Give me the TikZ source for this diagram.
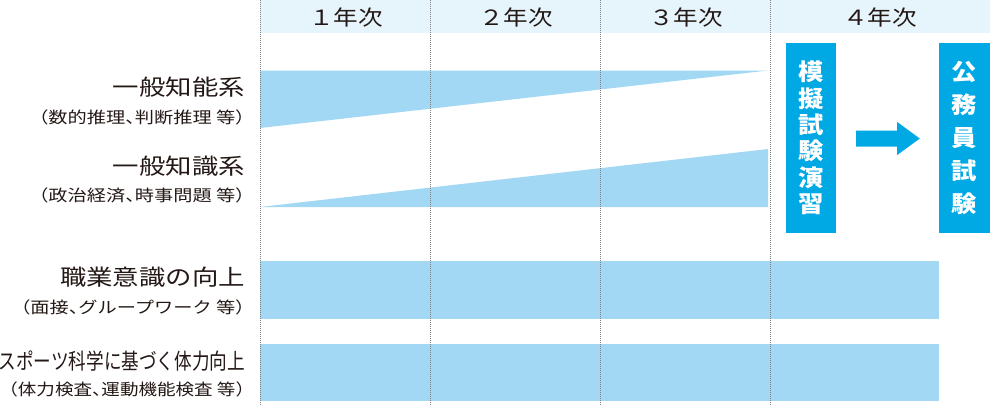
\documentclass[tikz,border=0pt]{standalone}
\usepackage{fontspec}
\usetikzlibrary{calc}
\newfontfamily\jpfont[FakeStretch=1.2]{Noto Sans CJK JP}
\newfontfamily\jpsubfont[FakeStretch=1.2,RawFeature=+halt]{Noto Sans CJK JP}
\newfontfamily\jpsubnarrowfont[FakeStretch=1.16,RawFeature=+halt]{Noto Sans CJK JP}
\newfontfamily\jpnarrowfont[FakeStretch=0.8]{Noto Sans CJK JP}
\newfontfamily\jpheadfont[FakeStretch=1.17]{Noto Sans CJK JP}
\newfontfamily\jpboldfont[FakeStretch=1.1]{Noto Sans CJK JP}
\definecolor{headbg}{HTML}{E6F4FC}
\definecolor{bandc}{HTML}{A2D8F4}
\definecolor{boxc}{HTML}{00A8E4}
\definecolor{txt}{HTML}{231815}
\definecolor{gridc}{HTML}{808080}
\tikzset{
  gridline/.style={gridc, line width=0.8pt, dash pattern=on 1pt off 1pt},
  headtext/.style={text=txt, inner sep=0pt, font=\jpheadfont\fontsize{21}{24}\selectfont},
  mainlabel/.style={anchor=east, text=txt, inner sep=0pt, font=\jpfont\fontsize{22}{26}\selectfont},
  narrowlabel/.style={anchor=east, text=txt, inner sep=0pt, font=\jpnarrowfont\fontsize{22}{26}\selectfont},
  sublabel/.style={anchor=east, text=txt, inner sep=0pt, font=\jpsubfont\fontsize{16}{19}\selectfont},
  subnarrow/.style={anchor=east, text=txt, inner sep=0pt, font=\jpsubnarrowfont\fontsize{16}{19}\selectfont},
  bluebox/.style={fill=boxc, text=white, inner sep=0pt, align=center, minimum height=190pt},
}
\begin{document}
\begin{tikzpicture}[x=1pt,y=-1pt]
\useasboundingbox (0,0) rectangle (990,405);
% header band
\fill[headbg] (260,0) rectangle (990,33);
% bands
\fill[bandc] (260,70.5) -- (768,70.5) -- (260,128) -- cycle;
\fill[bandc] (260,207) -- (768,149) -- (768,207) -- cycle;
\fill[bandc] (260,260.5) rectangle (939,318.5);
\fill[bandc] (260,343.5) rectangle (939,401);
% grid lines
\foreach \gx in {260,430,600,770} \draw[gridline] (\gx,0) -- (\gx,405);
% headers
\node[headtext] (y1) at (346,17.5) {１年次};
\node[headtext] (y2) at (516,17.5) {２年次};
\node[headtext] (y3) at (686,17.5) {３年次};
\node[headtext] (y4) at (880,17.5) {４年次};
% labels
\node[mainlabel] (l1) at (245,87) {一般知能系};
\node[sublabel] (s1) at (245,117) {（数的推理、判断推理 等）};
\node[mainlabel] (l2) at (245,166) {一般知識系};
\node[sublabel] (s2) at (245,195) {（政治経済、時事問題 等）};
\node[mainlabel] (l3) at (245,277) {職業意識の向上};
\node[sublabel] (s3) at (245,307) {（面接、グループワーク 等）};
\node[narrowlabel] (l4) at (245,361) {スポーツ科学に基づく体力向上};
\node[subnarrow] (s4) at (245,389) {（体力検査、運動機能検査 等）};
% boxes
\node[bluebox, minimum width=50pt, font=\jpboldfont\bfseries\fontsize{23}{26.4}\selectfont] (box1) at (811,138) {模\\擬\\試\\験\\演\\習};
\node[bluebox, minimum width=51pt, font=\jpboldfont\bfseries\fontsize{23}{33}\selectfont] (box2) at (964.5,138) {公\\務\\員\\試\\験};
% block arrow
\fill[boxc] ($(box1.east)+(20,-7.5)$) -- ($(box1.east)+(61,-7.5)$) -- ($(box1.east)+(61,-16)$)
  -- ($(box2.west)+(-19,0.5)$) -- ($(box1.east)+(61,17)$) -- ($(box1.east)+(61,8.5)$)
  -- ($(box1.east)+(20,8.5)$) -- cycle;
\end{tikzpicture}
\end{document}
